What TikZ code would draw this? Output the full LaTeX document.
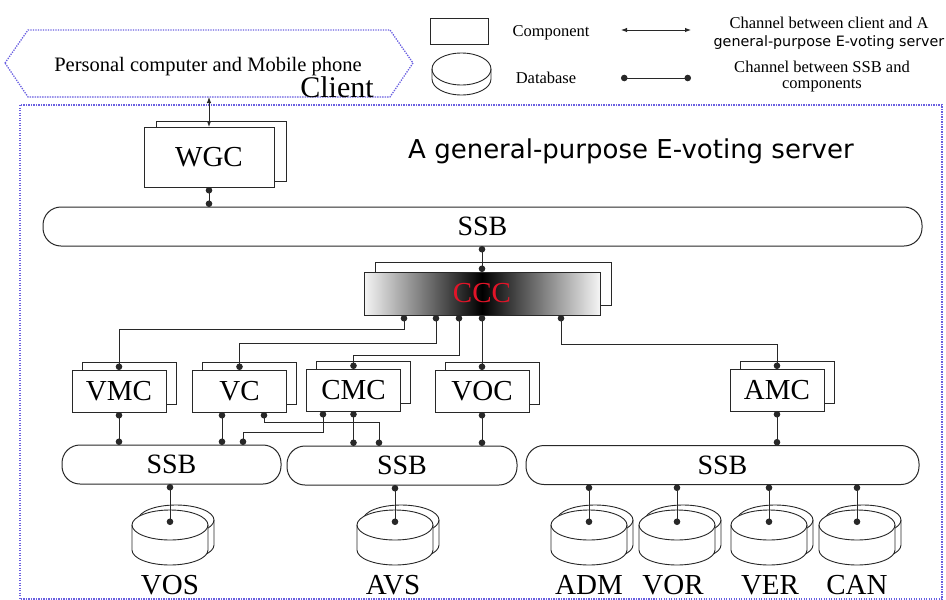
\documentclass[tikz,border=0pt]{standalone}
\usepackage{fontspec}
\setmainfont{Liberation Serif}
\newfontfamily\gothic{DejaVu Sans}
\usetikzlibrary{arrows.meta,backgrounds,calc}

\definecolor{dotblue}{RGB}{105,95,225}
\definecolor{cccred}{RGB}{225,20,40}
\definecolor{ink}{RGB}{40,40,40}

% database cylinder: #1 = x radius, #2 = y radius, #3 = wall height
\newcommand\dbbody[3]{%
  \draw[dbline,fill=white] (-#1,0) -- (-#1,-#3)
    arc[start angle=180,end angle=360,x radius=#1,y radius=#2]
    -- (#1,0) arc[start angle=0,end angle=180,x radius=#1,y radius=#2] -- cycle;
  \draw[dbline] (-#1,0) arc[start angle=180,end angle=360,x radius=#1,y radius=#2];
}

\tikzset{
  dbline/.style={draw=ink,line width=0.9pt},
  dbstack/.pic={
    \begin{scope}[shift={(6,5)}]\dbbody{38}{15}{25}\end{scope}
    \dbbody{38}{15}{25}
    \coordinate (-c) at (0,0);
  },
  border/.style={draw=dotblue,line width=1.3pt,dash pattern=on 1.3pt off 1.2pt},
  comp/.style={draw=ink,line width=1pt,fill=white,minimum width=94pt,minimum height=42pt,
    inner sep=0pt,outer sep=0pt,font=\fontsize{29}{32}\selectfont},
  backbox/.style={draw=ink,line width=1pt,fill=white},
  bus/.style={draw=ink,line width=1pt,rounded corners=18pt,minimum height=39pt,
    inner sep=0pt,outer sep=0pt,font=\fontsize{28}{30}\selectfont},
  link/.style={draw=ink,line width=1pt,{Circle[length=6.5pt]}-{Circle[length=6.5pt]}},
  twoway/.style={draw=ink,line width=1pt,{Latex[length=6pt,width=4.5pt]}-{Latex[length=6pt,width=4.5pt]}},
  lbl/.style={anchor=base,inner sep=0pt,font=\fontsize{16.5}{18}\selectfont},
  dblbl/.style={anchor=base,inner sep=0pt,font=\fontsize{29}{32}\selectfont},
}

\begin{document}
\begin{tikzpicture}[x=1pt,y=1pt]
\useasboundingbox (0,0) rectangle (946,-600);

% ---- client ----
\draw[border] (5,-63) -- (28,-30) -- (390,-30) -- (413,-63) -- (390,-97) -- (28,-97) -- cycle;
\node[anchor=base,inner sep=0pt,font=\fontsize{20.5}{24}\selectfont] (pc) at (208,-71)
  {Personal computer and Mobile phone};
\node[anchor=base,inner sep=0pt,font=\fontsize{30}{32}\selectfont] (clientlbl) at (337,-97) {Client};
\coordinate (clientport) at (209,-97);

% ---- legend ----
\node[draw=ink,line width=1pt,minimum width=58pt,minimum height=26pt,inner sep=0pt] (legcomp) at (459,-31) {};
\begin{scope}[shift={(461.5,-69)}]\dbbody{29.5}{16}{10}\end{scope}
\node[lbl] (legcomptxt) at (551,-36.5) {Component};
\node[lbl] (legdbtxt) at (546,-83) {Database};
\coordinate (la1) at (621,-30);
\coordinate (la2) at (691,-30);
\draw[twoway] (la1) -- (la2);
\coordinate (lb1) at (621,-78);
\coordinate (lb2) at (691,-78);
\draw[link] (lb1) -- (lb2);
\node[lbl] (leg1) at (829,-28) {Channel between client and A};
\node[anchor=base,inner sep=0pt,font=\gothic\fontsize{14.3}{17}\selectfont] (leg2) at (829,-46)
  {general-purpose E-voting server};
\node[lbl] (leg3) at (822,-72) {Channel between SSB and};
\node[lbl] (leg4) at (822,-88) {components};

% ---- server ----
\draw[border] (20,-105) rectangle (942,-599);
\node[anchor=base,inner sep=0pt,font=\gothic\fontsize{26}{30}\selectfont] (title) at (631,-158)
  {A general-purpose E-voting server};

\node[comp,minimum width=130pt,minimum height=60pt] (wgc) at (209,-157) {WGC};
\node[bus,minimum width=879pt] (ssbtop) at (482.5,-226.5) {SSB};
\node[comp,minimum width=236pt,minimum height=43pt,left color=gray!8,right color=gray!8,
  middle color=black,text=cccred] (ccc) at (482,-293.5) {CCC};

\node[comp] (vmc) at (119,-391) {VMC};
\node[comp] (vc) at (239.5,-391) {VC};
\node[comp] (cmc) at (353.5,-390) {CMC};
\node[comp] (voc) at (482,-391) {VOC};
\node[comp] (amc) at (777,-390) {AMC};

\node[bus,minimum width=219pt] (ssba) at (171.5,-464.5) {SSB};
\node[bus,minimum width=230pt] (ssbb) at (402,-465.5) {SSB};
\node[bus,minimum width=393pt] (ssbc) at (722.5,-465) {SSB};

% ---- databases ----
\pic (vos) at (170,-525) {dbstack};
\pic (avs) at (395,-525) {dbstack};
\pic (adm) at (589,-525) {dbstack};
\pic (vor) at (677,-525) {dbstack};
\pic (ver) at (769,-525) {dbstack};
\pic (can) at (857,-525) {dbstack};
\node[dblbl] (vostxt) at (170,-594) {VOS};
\node[dblbl] (avstxt) at (393,-594) {AVS};
\node[dblbl] (admtxt) at (589,-594) {ADM};
\node[dblbl] (vortxt) at (673,-594) {VOR};
\node[dblbl] (vertxt) at (770,-594) {VER};
\node[dblbl] (cantxt) at (857,-594) {CAN};

% ---- channels ----
\draw[twoway] (clientport) -- (wgc.north);
\draw[link] (wgc.south) -- (wgc.south |- ssbtop.north);
\draw[link] (ccc.north |- ssbtop.south) -- (ccc.north);

\draw[link] ([xshift=-78pt]ccc.south) -- ++(0,-14) -| (vmc.north);
\draw[link] ([xshift=-46pt]ccc.south) -- ++(0,-28) -| (vc.north);
\draw[link] ([xshift=-23pt]ccc.south) -- ++(0,-40) -| (cmc.north);
\draw[link] (ccc.south) -- (voc.north);
\draw[link] ([xshift=79pt]ccc.south) -- ++(0,-29) -| (amc.north);

\draw[link] (vmc.south) -- (vmc.south |- ssba.north);
\draw[link] ([xshift=-17.5pt]vc.south) -- ([xshift=-17.5pt]vc.south |- ssba.north);
\draw[link] ([xshift=24.5pt]vc.south) -- ++(0,-10) -| ([xshift=-23pt]ssbb.north);
\draw[link] ([xshift=-30.5pt]cmc.south) -- ++(0,-21) -| ([xshift=71.5pt]ssba.north);
\draw[link] (cmc.south) -- (cmc.south |- ssbb.north);
\draw[link] (voc.south) -- (voc.south |- ssbb.north);
\draw[link] (amc.south) -- (amc.south |- ssbc.north);

\draw[link] (vos-c |- ssba.south) -- (vos-c);
\draw[link] (avs-c |- ssbb.south) -- (avs-c);
\draw[link] (adm-c |- ssbc.south) -- (adm-c);
\draw[link] (vor-c |- ssbc.south) -- (vor-c);
\draw[link] (ver-c |- ssbc.south) -- (ver-c);
\draw[link] (can-c |- ssbc.south) -- (can-c);

% ---- stacked copies behind the components ----
\begin{scope}[on background layer]
  \fill[white] (0,0) rectangle (946,-600);
  \foreach \n/\dx/\dy in {wgc/12/6,ccc/11/10,vmc/10/8,vc/10/8,cmc/10/8,voc/10/8,amc/10/8}
    \draw[backbox] ([shift={(\dx,\dy)}]\n.south west) rectangle ([shift={(\dx,\dy)}]\n.north east);
\end{scope}
\end{tikzpicture}
\end{document}
